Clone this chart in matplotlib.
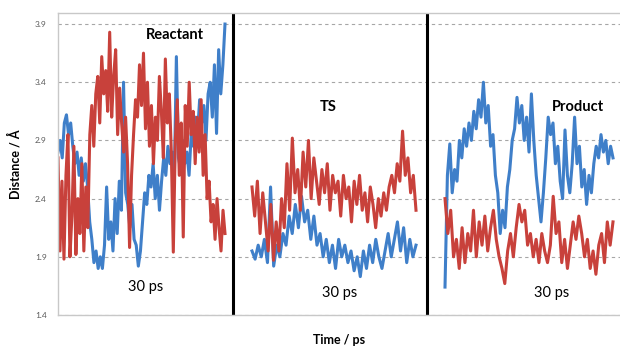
import numpy as np
import matplotlib
matplotlib.use("Agg")
import matplotlib.pyplot as plt

plt.rcParams['font.family'] = ['Lato', 'DejaVu Sans']

# distance traces (Angstrom)
react_red = [2.75, 1.95, 2.55, 1.88, 2.6, 2.95, 1.9, 2.25, 2.85, 1.92, 2.4, 2.1, 2.7, 1.95,
             2.5, 2.15, 2.95, 3.2, 2.85, 3.3, 3.45, 3.05, 3.62, 3.3, 3.5, 3.15, 3.83, 3.1,
             3.45, 3.68, 2.95, 3.35, 3.05, 2.8, 3.1, 2.7, 1.98, 2.6, 2.95, 3.25, 3.1, 3.55,
             3.2, 3.65, 3.0, 3.4, 2.85, 3.2, 2.7, 3.1, 2.9, 3.45, 3.15, 2.75, 3.6, 3.05, 3.3,
             2.8, 1.94, 2.9, 3.25, 2.6, 3.05, 2.07, 3.2, 2.85, 3.4, 2.95, 3.15, 2.7, 3.1, 2.8,
             3.25, 2.6, 2.95, 2.4, 2.55, 2.2, 2.35, 2.05, 2.4, 2.15, 1.95, 2.3, 2.1]
react_blue = [2.8, 2.9, 2.75, 3.05, 3.12, 2.95, 3.05, 2.85, 2.7, 2.8, 2.6, 2.75, 2.55, 2.7,
              2.5, 2.2, 2.05, 1.85, 1.95, 1.8, 1.9, 1.8, 2.0, 2.5, 2.05, 2.2, 1.95, 2.4, 2.1,
              2.55, 2.3, 3.4, 2.45, 2.35, 2.15, 2.35, 2.05, 2.0, 1.82, 1.95, 2.2, 2.45, 2.35,
              2.6, 2.5, 2.7, 2.4, 2.6, 2.3, 2.55, 2.75, 2.6, 2.85, 2.7, 2.8, 2.55, 3.62, 2.75,
              2.65, 2.9, 2.7, 2.8, 2.6, 2.95, 2.85, 3.1, 2.95, 3.25, 3.05, 3.2, 2.9, 3.3, 3.4,
              3.1, 3.55, 2.96, 3.68, 3.3, 3.55, 3.9]
ts_red = [2.5, 2.25, 2.55, 2.1, 2.45, 2.2, 1.95, 2.35, 1.87, 2.2, 1.95, 2.4, 2.15, 2.7, 2.3,
          2.92, 2.45, 2.65, 2.3, 2.8, 2.5, 2.9, 2.4, 2.75, 2.55, 2.35, 2.65, 2.45, 2.7, 2.3,
          2.6, 2.45, 2.55, 2.25, 2.6, 2.4, 2.5, 2.2, 2.55, 2.35, 2.6, 2.3, 2.45, 2.2, 2.5,
          2.35, 2.15, 2.4, 2.25, 2.45, 2.3, 2.5, 2.6, 2.45, 2.7, 2.55, 2.98, 2.6, 2.75, 2.45,
          2.6, 2.3]
ts_blue = [1.95, 1.88, 2.0, 1.9, 2.05, 1.85, 2.5, 1.82, 2.0, 1.9, 2.1, 2.0, 2.25, 2.1, 2.35,
           2.15, 2.42, 2.2, 2.3, 2.05, 2.25, 2.0, 2.1, 1.9, 2.05, 1.85, 2.0, 1.8, 2.05, 1.9,
           2.0, 1.85, 1.95, 1.78, 1.9, 1.73, 1.95, 1.8, 2.0, 1.85, 2.05, 1.9, 1.8, 1.95, 2.1,
           1.9, 2.05, 2.2, 1.95, 2.15, 1.85, 2.05, 1.9, 2.0]
prod_red = [2.4, 2.1, 2.3, 1.9, 2.05, 1.8, 2.15, 1.85, 2.1, 1.95, 2.3, 1.9, 2.2, 2.0, 2.25,
            1.95, 2.15, 2.3, 2.05, 1.9, 1.8, 1.67, 1.95, 2.1, 1.9, 2.15, 2.35, 2.2, 2.3, 2.0,
            2.1, 1.9, 2.05, 1.85, 2.1, 1.95, 1.85, 2.0, 2.42, 2.1, 2.2, 1.85, 2.05, 1.8, 2.0,
            2.2, 2.05, 2.25, 2.1, 1.9, 2.05, 1.8, 1.95, 1.75, 2.0, 2.1, 1.85, 2.2, 2.0, 2.2]
prod_blue = [1.64, 2.6, 2.87, 2.45, 2.65, 2.55, 2.9, 2.75, 3.0, 2.85, 3.05, 2.9, 3.15, 3.0,
             3.25, 3.1, 3.4, 3.05, 3.2, 2.85, 2.95, 2.6, 2.45, 2.1, 2.3, 2.15, 2.5, 2.65, 2.9,
             3.0, 3.27, 3.05, 3.2, 2.9, 3.1, 2.8, 3.3, 2.9, 2.6, 2.4, 2.2, 2.45, 2.75, 3.1,
             2.95, 3.05, 2.7, 2.85, 2.55, 2.4, 2.99, 2.6, 2.45, 2.7, 3.1, 2.7, 2.85, 2.5, 2.65,
             2.35, 2.6, 2.45, 2.7, 2.85, 2.75, 2.95, 2.8, 2.9, 2.7, 2.85, 2.75]

yticks = [1.4, 1.9, 2.4, 2.9, 3.4, 3.9]
panel_names = ['Reactant', 'TS', 'Product']
duration_label = '30 ps'

RED = '#c8413b'
BLUE = '#3f7fc9'

fig = plt.figure(figsize=(6.2, 3.5), dpi=100)
ax = fig.add_axes([58 / 620, 35 / 350, 562 / 620, 302 / 350])

# horizontal layout of each window (x units = pixels from left of axes)
spans = [(0, 167), (194, 358), (387, 555)]
traces = [(react_blue, react_red), (ts_blue, ts_red), (prod_blue, prod_red)]
for (x0, x1), (b, r) in zip(spans, traces):
    ax.plot(np.linspace(x0, x1, len(b)), b, color=BLUE, lw=2.2)
    ax.plot(np.linspace(x0, x1, len(r)), r, color=RED, lw=2.2)

for xv in [175, 369]:
    ax.axvline(xv, color='black', lw=2.2)

ax.set_xlim(0, 562)
ax.set_ylim(1.4, 3.995)
ax.set_yticks(yticks)
ax.set_yticklabels([f'{v:.1f}' for v in yticks])
ax.set_xticks([])
ax.tick_params(axis='y', length=0, labelsize=6, labelcolor='#595959', pad=8)
ax.yaxis.grid(True, linestyle=(0, (3, 3)), color='#a6a6a6', lw=0.8)
ax.set_axisbelow(True)
for s in ['left', 'top', 'bottom']:
    ax.spines[s].set_color('#c8c8c8')
    ax.spines[s].set_linewidth(1.0)
ax.spines['right'].set_visible(False)

ax.set_ylabel('Distance / Å', fontsize=9, fontweight='bold', labelpad=10)
ax.set_xlabel('Time / ps', fontsize=9, fontweight='bold', labelpad=14)

label_pos = [(117, 3.805), (270, 3.187), (520, 3.187)]
for name, (xl, yl) in zip(panel_names, label_pos):
    ax.text(xl, yl, name, ha='center', va='center', fontsize=10.5, fontweight='bold')

dur_pos = [(88, 1.64), (282, 1.59), (494, 1.59)]
for xl, yl in dur_pos:
    ax.text(xl, yl, duration_label, ha='center', va='center', fontsize=10.5)

fig.savefig('out.png', dpi=100)
